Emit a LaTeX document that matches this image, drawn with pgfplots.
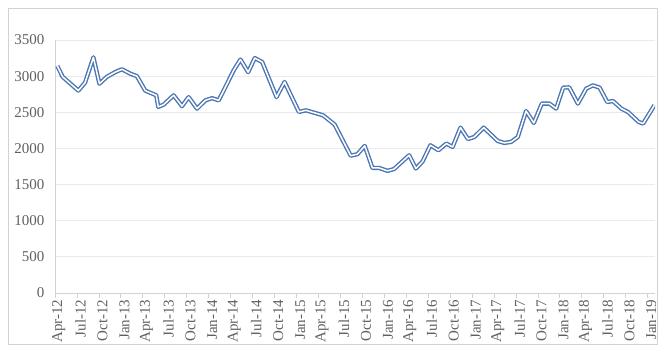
\documentclass[border=0pt]{standalone}
\usepackage{pgfplots}
\pgfplotsset{compat=1.18}
\usepackage{fontspec}
\setmainfont{Liberation Serif}
\definecolor{linec}{RGB}{76,118,178}
\definecolor{txt}{RGB}{96,96,96}
\definecolor{gridc}{RGB}{234,234,234}
\definecolor{axc}{RGB}{210,210,210}
\begin{document}
\begin{tikzpicture}
\path[use as bounding box] (0,0) rectangle (670pt,356pt);
\draw[axc, line width=1pt] (8pt,11pt) rectangle (657pt,347pt);
\begin{axis}[
  at={(55pt,63pt)}, anchor=south west,
  scale only axis, width=600pt, height=253pt,
  xmin=-0.5, xmax=81.5, ymin=0, ymax=3500,
  axis x line*=bottom, axis y line*=left,
  axis line style={axc, line width=0.8pt, -},
  ytick={0,500,...,3500},
  ymajorgrids, grid style={gridc, line width=0.8pt},
  xtick={0,3,...,81},
  xticklabels={Apr-12,Jul-12,Oct-12,Jan-13,Apr-13,Jul-13,Oct-13,Jan-14,Apr-14,Jul-14,Oct-14,Jan-15,Apr-15,Jul-15,Oct-15,Jan-16,Apr-16,Jul-16,Oct-16,Jan-17,Apr-17,Jul-17,Oct-17,Jan-18,Apr-18,Jul-18,Oct-18,Jan-19},
  minor xtick={-0.5,2.5,...,80.5},
  major tick length=0pt, minor tick length=5pt,
  tick align=outside,
  minor tick style={axc, line width=0.8pt},
  x tick label style={rotate=90, anchor=east, font=\fontsize{15}{17}\selectfont, text=txt},
  y tick label style={font=\fontsize{15}{17}\selectfont, text=txt},
  xticklabel shift=3pt, yticklabel shift=7pt,
  scaled y ticks=false,
  /pgf/number format/1000 sep={},
  /pgf/number format/assume math mode=true,
]
\addplot[linec, line width=1.4pt, double=white, double distance=1.5pt, line join=round, mark=none] coordinates {
(-0.18,3140) (0.55,2990) (2.69,2800) (3.61,2910) (4.75,3260) (5.57,2895)
(6.58,2990) (7.72,3055) (8.64,3095) (9.77,3035) (10.69,3000) (11.83,2800)
(13.34,2735) (13.61,2575) (14.34,2605) (15.71,2735) (16.86,2585) (17.76,2710)
(18.91,2550) (20.05,2665) (20.97,2695) (21.87,2665) (22.55,2800) (23.92,3080)
(24.84,3230) (25.90,3055) (26.80,3250) (27.82,3195) (29.77,2710) (30.87,2920)
(32.83,2505) (33.81,2527) (36.14,2458) (37.72,2330) (39.91,1900) (40.83,1920)
(41.83,2035) (42.88,1730) (43.79,1730) (44.94,1690) (45.84,1715) (47.90,1906)
(48.82,1722) (49.73,1818) (50.80,2044) (51.90,1975) (52.99,2067) (53.84,2020)
(54.91,2288) (55.94,2130) (56.80,2158) (58.09,2288) (60.01,2103) (60.91,2076)
(61.83,2090) (62.75,2158) (63.88,2518) (64.94,2352) (66.03,2620) (67.07,2620)
(67.99,2551) (68.95,2841) (69.77,2845) (70.96,2620) (72.10,2827) (73.02,2872)
(73.93,2841) (74.97,2642) (75.75,2656) (76.90,2551) (77.81,2504) (79.27,2366)
(79.88,2344) (81.42,2597)
};
\end{axis}
\end{tikzpicture}
\end{document}
